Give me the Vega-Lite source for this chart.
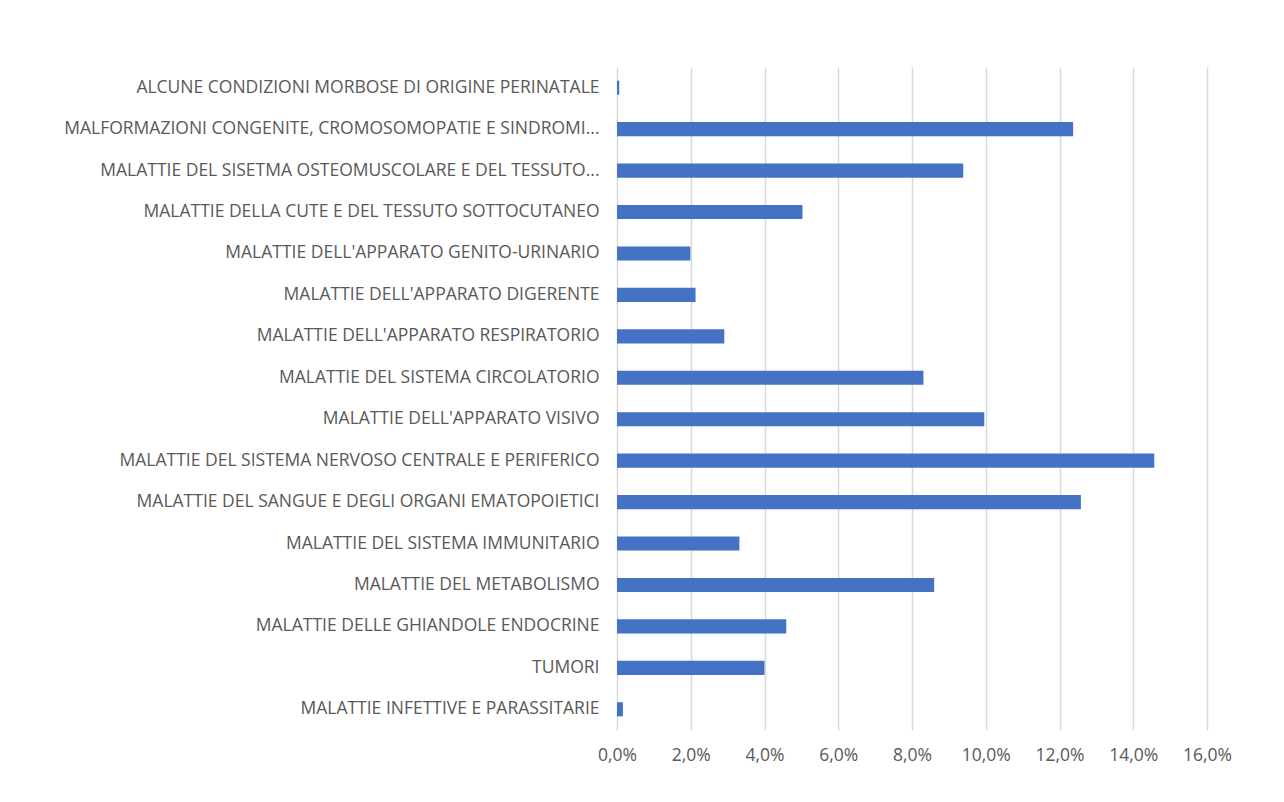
{
  "$schema": "https://vega.github.io/schema/vega-lite/v6.json",
  "autosize": "none",
  "width": 590,
  "height": 663,
  "padding": {"left": 617, "top": 67, "right": 77, "bottom": 72},
  "background": "white",
  "config": {
    "locale": {"number": {"decimal": ",", "thousands": ".", "grouping": [3], "currency": ["€", ""]}},
    "view": {"stroke": null},
    "font": "Open Sans"
  },
  "data": {
    "values": [
      {"causa": "ALCUNE CONDIZIONI MORBOSE DI ORIGINE PERINATALE", "pct": 0.0006},
      {"causa": "MALFORMAZIONI CONGENITE, CROMOSOMOPATIE E SINDROMI...", "pct": 0.1237},
      {"causa": "MALATTIE DEL SISETMA OSTEOMUSCOLARE E DEL TESSUTO...", "pct": 0.0939},
      {"causa": "MALATTIE DELLA CUTE E DEL TESSUTO SOTTOCUTANEO", "pct": 0.0503},
      {"causa": "MALATTIE DELL'APPARATO GENITO-URINARIO", "pct": 0.0199},
      {"causa": "MALATTIE DELL'APPARATO DIGERENTE", "pct": 0.0213},
      {"causa": "MALATTIE DELL'APPARATO RESPIRATORIO", "pct": 0.0291},
      {"causa": "MALATTIE DEL SISTEMA CIRCOLATORIO", "pct": 0.0831},
      {"causa": "MALATTIE DELL'APPARATO VISIVO", "pct": 0.0996},
      {"causa": "MALATTIE DEL SISTEMA NERVOSO CENTRALE E PERIFERICO", "pct": 0.1457},
      {"causa": "MALATTIE DEL SANGUE E DEGLI ORGANI EMATOPOIETICI", "pct": 0.1258},
      {"causa": "MALATTIE DEL SISTEMA IMMUNITARIO", "pct": 0.0332},
      {"causa": "MALATTIE DEL METABOLISMO", "pct": 0.0860},
      {"causa": "MALATTIE DELLE GHIANDOLE ENDOCRINE", "pct": 0.0459},
      {"causa": "TUMORI", "pct": 0.0400},
      {"causa": "MALATTIE INFETTIVE E PARASSITARIE", "pct": 0.0016}
    ]
  },
  "mark": {"type": "bar", "color": "#4472c4"},
  "encoding": {
    "y": {
      "field": "causa",
      "type": "nominal",
      "sort": null,
      "scale": {"paddingInner": 0.66, "paddingOuter": 0.33},
      "axis": {
        "title": null,
        "domain": false,
        "ticks": false,
        "labelPadding": 18,
        "labelFontSize": 17.5,
        "labelColor": "#595959",
        "labelLimit": 0,
        "grid": false
      }
    },
    "x": {
      "field": "pct",
      "type": "quantitative",
      "scale": {"domain": [0, 0.16], "nice": false},
      "axis": {
        "title": null,
        "format": ".1%",
        "values": [0, 0.02, 0.04, 0.06, 0.08, 0.1, 0.12, 0.14, 0.16],
        "domain": false,
        "ticks": false,
        "labelPadding": 16,
        "labelFontSize": 17.5,
        "labelColor": "#595959",
        "grid": true,
        "gridColor": "#d9d9d9",
        "gridWidth": 1.5,
        "labelFlush": false
      }
    }
  }
}
